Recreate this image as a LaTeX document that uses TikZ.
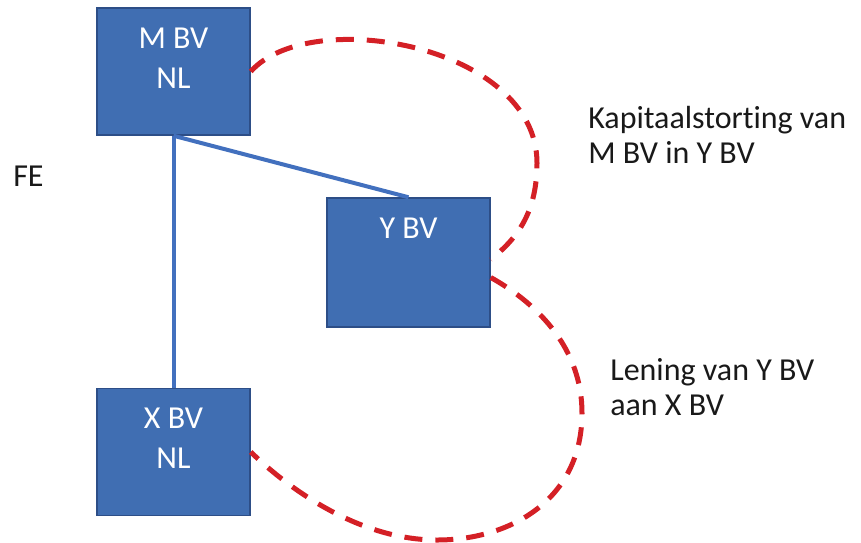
\documentclass[tikz,border=0pt]{standalone}
\usepackage{fontspec}
\setmainfont{Carlito}[Ligatures=CommonOff]
\usetikzlibrary{positioning}
\definecolor{entfill}{RGB}{64,110,178}
\definecolor{entedge}{RGB}{45,78,135}
\definecolor{holdline}{RGB}{66,112,190}
\definecolor{flowred}{RGB}{212,32,38}
\definecolor{notetext}{RGB}{25,25,25}
\tikzset{
	group/.style={x=1pt,y=-1pt,semithick},
	entity/.style={rectangle,draw=entedge,line width=1.5pt,fill=entfill,inner sep=0pt,
		minimum width=153pt,minimum height=127pt},
	entname/.style={text=white,align=center,anchor=north,inner sep=0pt,yshift=-20pt,
		font=\fontsize{32}{40}\selectfont},
	holding/.style={draw=holdline,line width=4pt},
	flow/.style={draw=flowred,line width=5pt,dash pattern=on 18pt off 13pt},
	note/.style={text=notetext,align=left,anchor=base west,inner sep=0pt,
		font=\fontsize{32}{35}\selectfont}
}

\begin{document}
\begin{tikzpicture}[group]
		\useasboundingbox (0,0) rectangle (861,542);
		
		\node[entity,label={[entname]north:M BV\\NL}] (m) at (173.5,71.5) {};
		\node[entity,minimum width=163pt,minimum height=129pt,label={[entname]north:Y BV}] (y) at (408.5,262.5) {};
		\node[entity,label={[entname]north:X BV\\NL}] (x) at (173.5,452) {};
		
		% last line sits on the given point
		\node[note] (fe) at (13,186) {FE};
		\node[note] (storting) at (588,163) {Kapitaalstorting van\\M BV in Y BV};
		\node[note] (lening) at (610,415) {Lening van Y BV\\aan X BV};
		
		\path[holding] (m.south) edge (x.north);
		\path[holding] (m.south) edge (y.north);
		
		\draw[flow] (m.east) .. controls (310,5) and (537,45) .. (537,163)
			.. controls (537,215) and (515,240) .. ([yshift=3pt]y.east);
		\draw[flow] ([yshift=-15pt]y.east) .. controls (540,305) and (582,350) .. (582,413)
			.. controls (582,500) and (510,540) .. (437,540)
			.. controls (360,540) and (290,490) .. (x.east);
		\end{tikzpicture}
\end{document}
